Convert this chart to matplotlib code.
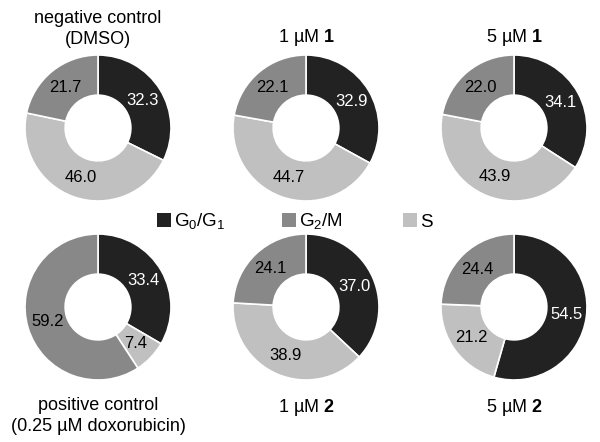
import matplotlib
matplotlib.use("Agg")
from matplotlib import pyplot as plt
from matplotlib.patches import Rectangle

plt.rcParams['font.family'] = ['Liberation Sans', 'DejaVu Sans']
plt.rcParams['mathtext.fontset'] = 'custom'
plt.rcParams['mathtext.rm'] = 'Liberation Sans'
plt.rcParams['mathtext.bf'] = 'Liberation Sans:bold'

phases = ['G$_\\mathrm{0}$/G$_\\mathrm{1}$', 'G$_\\mathrm{2}$/M', 'S']
colors = ['#222222', '#888888', '#c0c0c0']

titles = ['negative control\n(DMSO)', '1 µM $\\mathbf{1}$', '5 µM $\\mathbf{1}$',
          'positive control\n(0.25 µM doxorubicin)', '1 µM $\\mathbf{2}$', '5 µM $\\mathbf{2}$']
g0g1 = [32.3, 32.9, 34.1, 33.4, 37.0, 54.5]
s_phase = [46.0, 44.7, 43.9, 7.4, 38.9, 21.2]
g2m = [21.7, 22.1, 22.0, 59.2, 24.1, 24.4]

W, H = 600, 442
fig = plt.figure(figsize=(W / 100, H / 100), dpi=100)
R = 73
cx = [98, 306, 514]
cy = [128, 307]

for i in range(6):
    x0 = cx[i % 3]
    y0 = cy[i // 3]
    ax = fig.add_axes([(x0 - R) / W, 1 - (y0 + R) / H, 2 * R / W, 2 * R / H])
    vals = [g0g1[i], s_phase[i], g2m[i]]
    cols = [colors[0], colors[2], colors[1]]
    wedges, texts = ax.pie(vals, colors=cols, startangle=90, counterclock=False,
                           radius=1, wedgeprops=dict(width=0.55, edgecolor='white', linewidth=1.2),
                           labels=['%.1f' % v for v in vals], labeldistance=0.72)
    for t, c in zip(texts, ['white', 'black', 'black']):
        t.set_color(c)
        t.set_fontsize(12)
        t.set_ha('center')
        t.set_va('center')
    ax.set_xlim(-1, 1)
    ax.set_ylim(-1, 1)
    ax.set_aspect('equal')
    if i < 3:
        fig.text(x0 / W, 1 - (y0 - R - 7) / H, titles[i], ha='center', va='bottom',
                 fontsize=13, linespacing=1.3)
    else:
        fig.text(x0 / W, 1 - (y0 + R + 17) / H, titles[i], ha='center', va='top',
                 fontsize=13, linespacing=1.3)

# legend drawn by hand to match spacing
leg_x = [157, 282, 403]
for lx, lab, c in zip(leg_x, phases, colors):
    fig.patches.append(Rectangle((lx / W, 1 - 227 / H), 14 / W, 14 / H,
                                 transform=fig.transFigure, facecolor=c, edgecolor='none'))
    fig.text((lx + 17) / W, 1 - 227 / H, lab, ha='left', va='baseline', fontsize=13.5)

fig.savefig('out.png', dpi=100)
